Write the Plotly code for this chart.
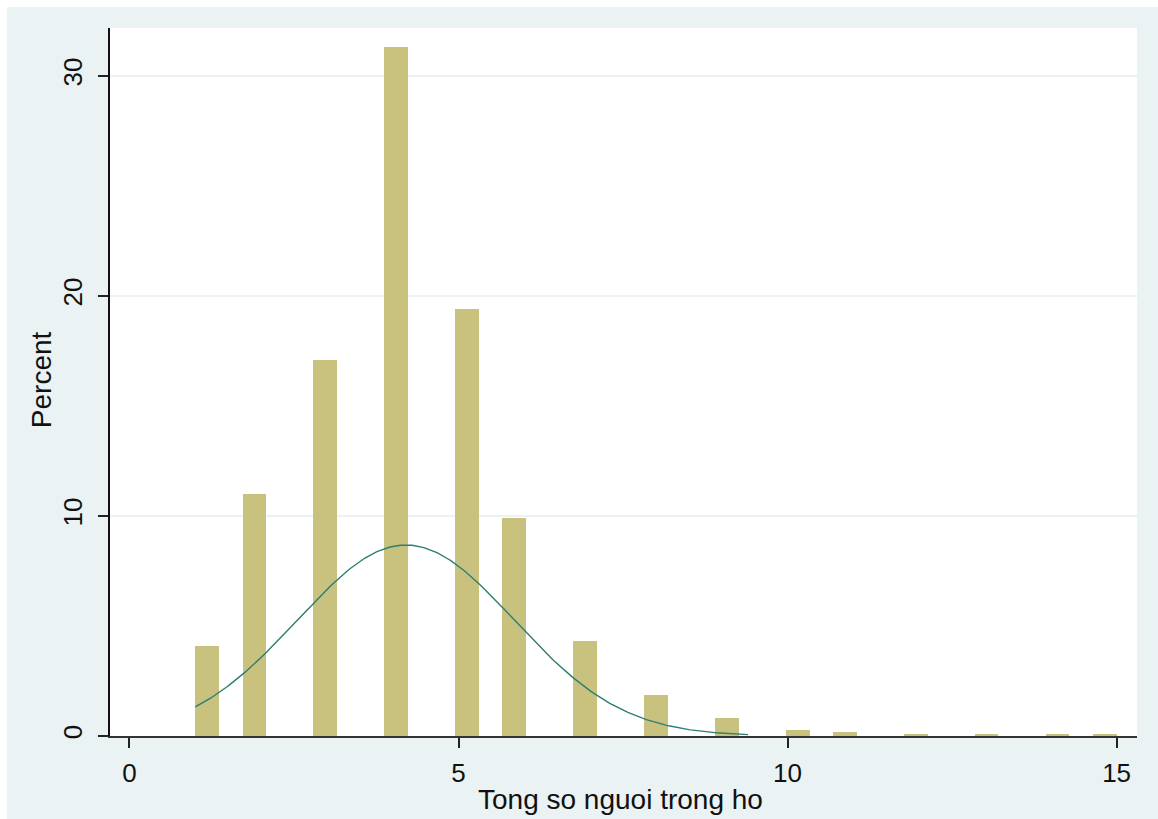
import numpy as np
import plotly.graph_objects as go

# Household size distribution (percent of households)
household_size = [1, 2, 3, 4, 5, 6, 7, 8, 9, 10, 11, 12, 13, 14, 15]
percent = [4.1, 11.0, 17.1, 31.3, 19.4, 9.9, 4.3, 1.85, 0.8, 0.27, 0.18, 0.1, 0.08, 0.08, 0.08]

# Histogram binning: 39 equal-width bins over the data range
n_bins = 39
x_min, x_max = min(household_size), max(household_size)
bin_width = (x_max - x_min) / n_bins

# Fitted normal density overlay
normal_mean = 4.2
normal_sd = 1.65
curve_end = 9.4

x_ticks = [0, 5, 10, 15]
y_ticks = [0, 10, 20, 30]

# place each value into its bin
bin_idx = np.minimum(np.floor((np.array(household_size) - x_min) / bin_width), n_bins - 1)
bin_centers = x_min + (bin_idx + 0.5) * bin_width

xs = np.linspace(x_min, curve_end, 300)
density = 100 * bin_width * np.exp(-0.5 * ((xs - normal_mean) / normal_sd) ** 2) / (normal_sd * np.sqrt(2 * np.pi))

BG = "rgb(234,242,243)"
BAR = "rgb(201,194,127)"
LINE = "rgb(46,125,114)"
FONT = "Liberation Sans, Arial, sans-serif"

fig = go.Figure()
fig.add_trace(go.Bar(
    x=bin_centers, y=percent, width=bin_width,
    marker=dict(color=BAR, line=dict(width=0)),
    showlegend=False,
))
fig.add_trace(go.Scatter(
    x=xs, y=density, mode="lines",
    line=dict(color=LINE, width=1.4),
    showlegend=False,
))

fig.update_layout(
    width=1158, height=819,
    margin=dict(l=110, r=21, t=28, b=83),
    paper_bgcolor=BG,
    plot_bgcolor="white",
    font=dict(family=FONT, size=26, color="#111"),
    bargap=0,
    xaxis=dict(
        range=[-0.296, 15.31],
        tickvals=x_ticks, ticktext=[str(t) for t in x_ticks],
        ticks="outside", ticklen=10, tickwidth=1.5, tickcolor="#222",
        showline=True, linecolor="#333", linewidth=2,
        showgrid=False, zeroline=False,
        ticklabelstandoff=3,
    ),
    yaxis=dict(
        range=[0, 32.18],
        tickvals=y_ticks, ticktext=[str(t) for t in y_ticks],
        tickangle=-90,
        ticks="outside", ticklen=10, tickwidth=1.5, tickcolor="#222",
        showline=True, linecolor="#111", linewidth=1.5,
        showgrid=True, gridcolor=BG, gridwidth=1.5,
        zeroline=False,
        ticklabelstandoff=6,
    ),
    annotations=[
        dict(text="Tong so nguoi trong ho", xref="paper", yref="paper",
             x=0.497, y=-0.089, xanchor="center", yanchor="middle",
             showarrow=False, font=dict(size=28)),
        dict(text="Percent", xref="paper", yref="paper",
             x=-0.0672, y=0.504, xanchor="center", yanchor="middle",
             textangle=-90, showarrow=False, font=dict(size=28)),
    ],
    shapes=[
        # thin white strips along the top and left edges of the canvas
        dict(type="rect", xref="paper", yref="paper", x0=-0.2, x1=1.1,
             y0=1.0297, y1=1.1, fillcolor="white", line=dict(width=0), layer="above"),
        dict(type="rect", xref="paper", yref="paper", x0=-0.2, x1=-0.1003,
             y0=-0.2, y1=1.1, fillcolor="white", line=dict(width=0), layer="above"),
    ],
)

fig.write_html("out.html")
